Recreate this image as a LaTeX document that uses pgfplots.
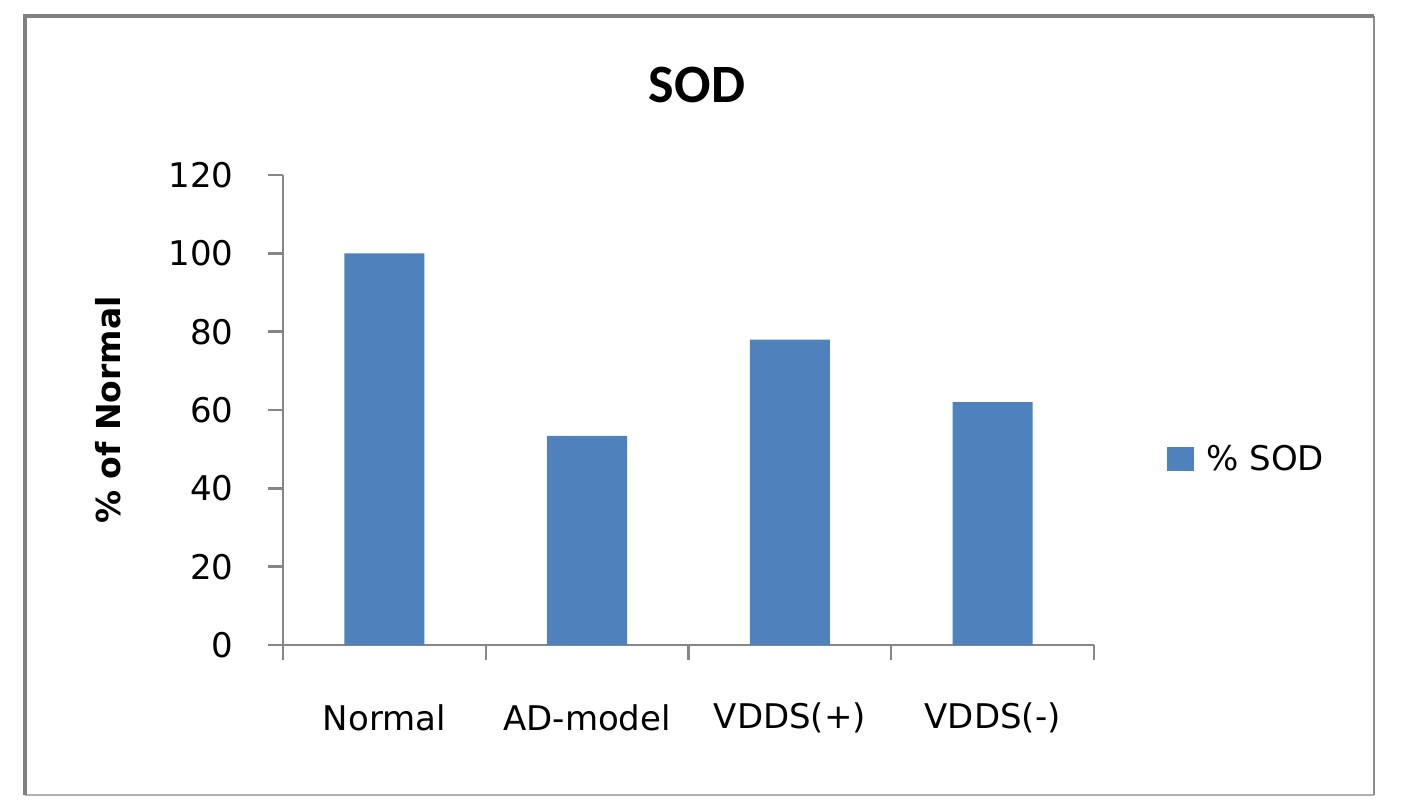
\documentclass[border=0pt]{standalone}
\usepackage{fontspec}
\setmainfont{DejaVu Sans}
\newfontfamily\titlefont{Carlito}
\usepackage{pgfplots}
\pgfplotsset{compat=1.18}
\definecolor{barblue}{HTML}{4F81BD}
\definecolor{axgray}{HTML}{868686}
\begin{document}
\begin{tikzpicture}
\useasboundingbox (0,0) rectangle (705pt,405pt);
\fill[white] (0,0) rectangle (705pt,405pt);
% outer chart frame
\draw[color=black!30, line width=0.6pt] (12.5pt,7.5pt) -- (687pt,7.5pt);
\draw[color=black!45, line width=0.8pt] (687pt,7.5pt) -- (687pt,397pt);
\draw[color=black!50, line width=2pt] (12.5pt,7.5pt) -- (12.5pt,397pt) -- (687pt,397pt);
\begin{axis}[
  at={(141.5pt,82.5pt)}, anchor=south west,
  scale only axis, width=405.5pt, height=235pt,
  xmin=-0.5, xmax=3.5, ymin=0, ymax=120,
  ytick={0,20,...,120},
  xtick={0,1,2,3},
  xticklabels={Normal,AD-model,VDDS(+),VDDS(-)},
  minor xtick={-0.5,0.5,1.5,2.5,3.5},
  major x tick style={draw=none},
  tick align=outside,
  major tick length=7.5pt, minor tick length=7.5pt,
  tick style={color=axgray, line width=1.2pt},
  axis x line*=bottom, axis y line*=left,
  axis line style={color=axgray, line width=1.2pt, -},
  /pgf/number format/assume math mode=true,
  every tick label/.append style={font=\fontsize{17}{20}\selectfont, text=black},
  xticklabel style={anchor=center, yshift=-29pt},
  yticklabel style={anchor=east, inner sep=0pt, xshift=-17pt},
  ylabel={\% of Normal},
  ylabel style={at={(axis description cs:-0.215,0.5)}, anchor=center, font=\fontsize{16.5}{20}\selectfont\bfseries},
  title={\titlefont\bfseries SOD},
  title style={at={(axis description cs:0.5105,1.165)}, anchor=center, font=\fontsize{27}{30}\selectfont},
  ybar, bar width=40pt,
  legend style={draw=none, at={(rel axis cs:1.090,0.396)}, anchor=west, inner sep=0pt, font=\fontsize{17}{20}\selectfont, legend cell align=left},
  legend image code/.code={\fill[#1, draw=none] (0pt,-6pt) rectangle (13.5pt,6pt);},
  clip=false,
]
\addplot[fill=barblue, draw=none] coordinates {(0,100) (1,53.4) (2,78.0) (3,62.0)};
\addlegendentry{\hspace*{4pt}\% SOD}
\end{axis}
\end{tikzpicture}
\end{document}
